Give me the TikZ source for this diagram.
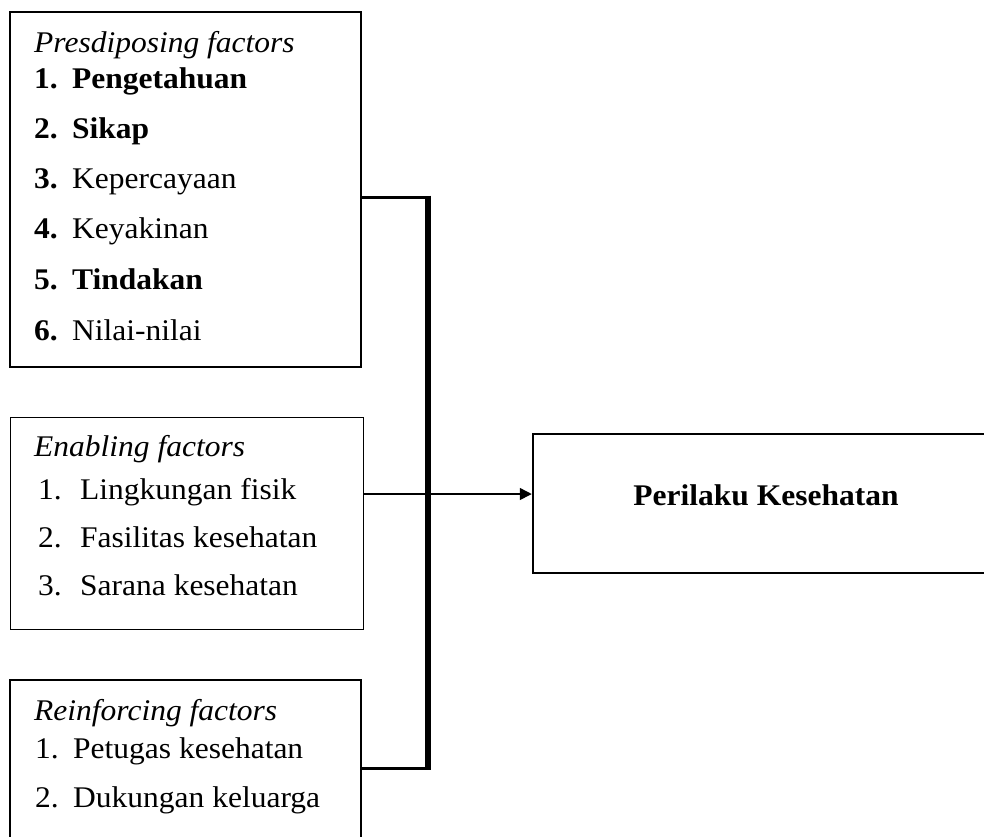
\documentclass[tikz,border=0pt]{standalone}
\usepackage{fontspec}
\setmainfont{Liberation Serif}[FakeStretch=1.05]
\usetikzlibrary{arrows.meta}
\newcommand{\fsz}{\fontsize{30}{33}\selectfont}
\begin{document}
\begin{tikzpicture}[x=1pt,y=-1pt,
  thickbox/.style={draw,line width=2.5pt,inner sep=0pt,rectangle},
  thinbox/.style={draw,line width=1pt,inner sep=0pt,rectangle},
  txt/.style={anchor=base west,inner sep=0pt,font=\fsz},
  ctxt/.style={anchor=base,inner sep=0pt,font=\fsz},
  link/.style={line width=3pt},
  spine/.style={line width=6pt},
  arr/.style={line width=1.5pt,-{Triangle[length=12pt,width=12pt]}}
]
\useasboundingbox (0,0) rectangle (984,836);
% boxes
\node[thickbox,minimum width=351pt,minimum height=355pt] (b1) at (185.5,189.5) {};
\node[thinbox,minimum width=353pt,minimum height=212pt] (b2) at (186.5,523) {};
\node[thickbox,minimum width=457pt,minimum height=139pt] (b3) at (761.5,503.5) {};
\node[thickbox,minimum width=351pt,minimum height=165pt] (b4) at (185.5,762.5) {};
% box 1 text
\node[txt] (h1) at (34,52) {\textit{Presdiposing factors}};
\node[txt] (n11) at (34,88) {\textbf{1.}};
\node[txt] (i11) at (72,88) {\textbf{Pengetahuan}};
\node[txt] (n12) at (34,138) {\textbf{2.}};
\node[txt] (i12) at (72,138) {\textbf{Sikap}};
\node[txt] (n13) at (34,188) {\textbf{3.}};
\node[txt] (i13) at (72,188) {Kepercayaan};
\node[txt] (n14) at (34,238) {\textbf{4.}};
\node[txt] (i14) at (72,238) {Keyakinan};
\node[txt] (n15) at (34,289) {\textbf{5.}};
\node[txt] (i15) at (72,289) {\textbf{Tindakan}};
\node[txt] (n16) at (34,340) {\textbf{6.}};
\node[txt] (i16) at (72,340) {Nilai-nilai};
% box 2 text
\node[txt] (h2) at (34,456) {\textit{Enabling factors}};
\node[txt] (n21) at (38,499) {1.};
\node[txt] (i21) at (80,499) {Lingkungan fisik};
\node[txt] (n22) at (38,547) {2.};
\node[txt] (i22) at (80,547) {Fasilitas kesehatan};
\node[txt] (n23) at (38,595) {3.};
\node[txt] (i23) at (80,595) {Sarana kesehatan};
% box 3 text
\node[ctxt] (t3) at (766,505) {\textbf{Perilaku Kesehatan}};
% box 4 text
\node[txt] (h4) at (34,720) {\textit{Reinforcing factors}};
\node[txt] (n41) at (35,758) {1.};
\node[txt] (i41) at (73,758) {Petugas kesehatan};
\node[txt] (n42) at (35,807) {2.};
\node[txt] (i42) at (73,807) {Dukungan keluarga};
% connectors
\coordinate (jt) at (428,197);
\coordinate (jb) at (428,768);
\coordinate (st) at (428,195.5);
\coordinate (sb) at (428,769.5);
\coordinate (ay) at (0,494);
\draw[link] (b1.east |- jt) -- (jt);
\draw[link] (b4.east |- jb) -- (jb);
\draw[spine] (st) -- (sb);
\draw[arr] (b2.east |- ay) -- (b3.west |- ay);
\end{tikzpicture}
\end{document}
